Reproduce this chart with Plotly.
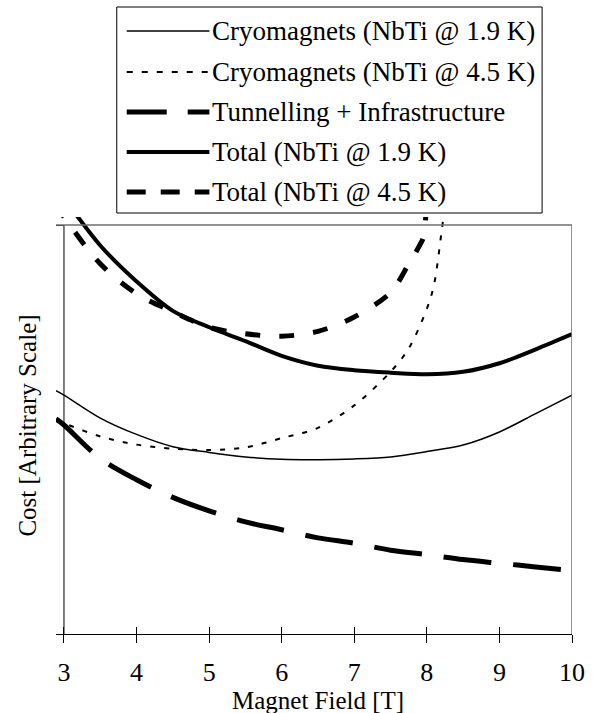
import plotly.graph_objects as go

# ---------------- data ----------------
field = [2.89, 3.0, 3.5, 4.0, 4.5, 5.0, 5.5, 6.0, 6.5, 7.0, 7.5, 8.0, 8.5, 9.0, 9.5, 10.0]
cryo_19 = [59.5, 58.4, 52.8, 48.8, 45.8, 44.4, 43.3, 42.7, 42.6, 42.8, 43.3, 44.6, 46.2, 49.4, 53.9, 58.4]
tunnel = [52.6, 51.1, 42.9, 37.7, 33.4, 30.1, 27.4, 25.5, 23.5, 22.2, 20.5, 19.4, 18.2, 17.3, 16.4, 15.5]
total_19 = [109.0, 106.5, 95.0, 86.2, 79.0, 75.0, 71.6, 68.0, 65.6, 64.5, 63.9, 63.5, 64.1, 66.2, 69.6, 73.3]

field_45 = [2.89, 3.0, 3.5, 4.0, 4.5, 5.0, 5.5, 6.0, 6.5, 7.0, 7.5, 7.75, 8.0, 8.1, 8.2, 8.3]
cryo_45 = [52.1, 51.5, 48.3, 46.3, 45.3, 45.0, 45.6, 47.9, 50.4, 55.9, 64.1, 69.8, 79.5, 85.5, 98.0, 112.0]

field_tot45 = [2.89, 3.0, 3.5, 4.0, 4.5, 5.0, 5.5, 6.0, 6.5, 7.0, 7.5, 7.75, 7.9, 7.96, 8.0]
total_45 = [105.0, 102.0, 90.5, 83.2, 78.8, 75.0, 73.4, 72.8, 74.0, 77.5, 83.5, 90.5, 95.0, 97.5, 120.0]

x_ticks = [3, 4, 5, 6, 7, 8, 9, 10]
y_ticks = [0, 100]

names = ["Cryomagnets (NbTi @ 1.9 K)", "Cryomagnets (NbTi @ 4.5 K)",
         "Tunnelling + Infrastructure", "Total (NbTi @ 1.9 K)", "Total (NbTi @ 4.5 K)"]

# ---------------- geometry ----------------
W, H = 597, 713
ML, MR, MT, MB = 56, 23, 217, 79
PW, PH = W - ML - MR, H - MT - MB
X_RANGE = [2.89, 10.0]
Y_RANGE = [0, PH / 4.09]

FONT = "'Liberation Serif', 'Times New Roman', serif"


def px_x(p):
    return (p - ML) / PW


def px_y(p):
    return (H - MB - p) / PH


styles = [
    dict(width=1.5, dash="solid"),
    dict(width=2, dash="5px,9px"),
    dict(width=5, dash="48px,22px"),
    dict(width=4, dash="solid"),
    dict(width=5, dash="15px,19px"),
]
legend_dash = ["solid", "6px,9px", "40px,21px", "solid", "19px,15px"]

series = [(field, cryo_19), (field_45, cryo_45), (field, tunnel), (field, total_19), (field_tot45, total_45)]

fig = go.Figure()
for (xs, ys), nm, st in zip(series, names, styles):
    fig.add_trace(go.Scatter(
        x=xs, y=ys, name=nm, mode="lines",
        line=dict(color="black", width=st["width"], dash=st["dash"], shape="spline", smoothing=0.9),
        showlegend=False, hoverinfo="skip"))

# helper trace for inside half of the crossing x ticks
fig.add_trace(go.Scatter(x=x_ticks, y=[None] * len(x_ticks), xaxis="x2", showlegend=False,
                         hoverinfo="skip", mode="lines"))

shapes = [
    # y axis line at x=3
    dict(type="line", xref="x", yref="y", x0=3, x1=3, y0=0, y1=100, line=dict(color="black", width=1)),
    # plot-area frame (top and right)
    dict(type="line", xref="paper", yref="y", x0=0, x1=1, y0=100, y1=100, line=dict(color="#6e6e6e", width=1.5)),
    dict(type="line", xref="x", yref="y", x0=10, x1=10, y0=0, y1=100, line=dict(color="#6e6e6e", width=1.5)),
]

# manual legend box
LEG_L, LEG_R, LEG_T, LEG_B = 117, 544, 7, 213
shapes.append(dict(type="rect", xref="paper", yref="paper",
                   x0=px_x(LEG_L), x1=px_x(LEG_R), y0=px_y(LEG_B), y1=px_y(LEG_T),
                   line=dict(color="black", width=1), fillcolor="white", layer="above"))
row_y = [31, 72, 112, 152, 192]
annotations = []
for i, nm in enumerate(names):
    yy = px_y(row_y[i])
    shapes.append(dict(type="line", xref="paper", yref="paper", x0=px_x(127), x1=px_x(210), y0=yy, y1=yy,
                       line=dict(color="black", width=styles[i]["width"], dash=legend_dash[i]), layer="above"))
    annotations.append(dict(xref="paper", yref="paper", x=px_x(211), y=yy, xanchor="left", yanchor="middle",
                            text=nm, showarrow=False, font=dict(family=FONT, size=27, color="black")))

# x-axis title
annotations.append(dict(xref="x", yref="paper", x=6.5, y=px_y(700), xanchor="center", yanchor="middle",
                        text="Magnet Field [T]", showarrow=False, font=dict(family=FONT, size=25, color="black")))

fig.update_layout(
    width=W, height=H,
    margin=dict(l=ML, r=MR, t=MT, b=MB, pad=0),
    paper_bgcolor="white", plot_bgcolor="white",
    font=dict(family=FONT, size=26, color="black"),
    shapes=shapes, annotations=annotations,
    xaxis=dict(range=X_RANGE, tickvals=x_ticks, ticks="outside", ticklen=8, tickcolor="black",
               showgrid=False, zeroline=False, showline=True, linecolor="black", linewidth=1,
               tickfont=dict(family=FONT, size=26), ticklabelstandoff=7),
    xaxis2=dict(range=X_RANGE, overlaying="x", anchor="y", side="bottom", tickvals=x_ticks,
                ticks="inside", ticklen=7, tickcolor="black", showticklabels=False,
                showgrid=False, zeroline=False, showline=False),
    yaxis=dict(range=Y_RANGE, tickvals=y_ticks, ticks="inside", ticklen=8, tickcolor="black",
               showticklabels=False, showgrid=False, zeroline=False, showline=False,
               title=dict(text="Cost [Arbitrary Scale]", font=dict(family=FONT, size=25), standoff=11)),
)

fig.write_html("out.html", config={"displayModeBar": False},
               post_script="document.body.style.margin='0';document.body.style.overflow='hidden';")
